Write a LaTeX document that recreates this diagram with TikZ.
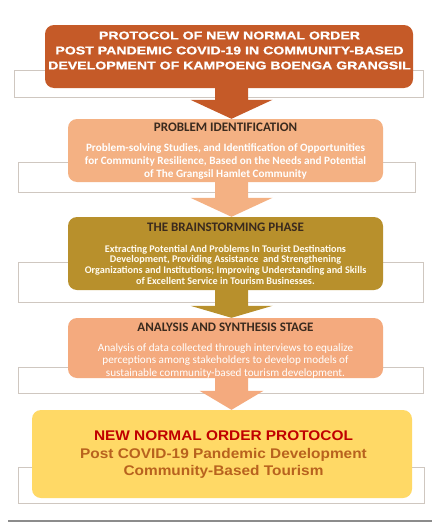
\documentclass[tikz,border=0pt]{standalone}
\usepackage{fontspec}
\setmainfont{Carlito}
\newfontfamily\arialfont{Liberation Sans}
\newfontfamily\widefont[FakeStretch=1.25, FakeBold=1.2]{Liberation Sans}
\newfontfamily\endfont[FakeStretch=1.1]{Liberation Sans}
\usetikzlibrary{calc}
\definecolor{protoDark}  {HTML}{C55A28}
\definecolor{protoPeach} {HTML}{F4B183}
\definecolor{protoGold}  {HTML}{B8902C}
\definecolor{protoSalmon}{HTML}{F4AA7E}
\definecolor{protoYellow}{HTML}{FFD966}
\definecolor{protoFrame} {HTML}{CFC7C0}
\definecolor{protoInk}   {HTML}{3A2A1E}
\definecolor{protoRed}   {HTML}{C00000}
\definecolor{protoBrown} {HTML}{B8621E}
\tikzset{
  stagebox/.style = {rectangle, rounded corners=9pt, inner sep=0pt, draw=none},
  backframe/.style= {draw=protoFrame, line width=0.8pt, fill=white},
  headtext/.style = {font=\widefont\bfseries\fontsize{11.3}{15}\selectfont,
                     text=white, align=center},
  titletext/.style= {font=\bfseries\fontsize{13}{14}\selectfont, text=protoInk},
  bodytext/.style = {align=center, text=white},
  endtext/.style  = {font=\endfont\bfseries\fontsize{14}{17.5}\selectfont,
                     align=center, text=protoBrown},
}
% block arrow: from, to, colour, half head width, head length
\newcommand{\stagearrow}[5]{%
  \fill[#3] let \p1=(#1.south -| ax), \p2=(#2.north -| ax) in
    (\x1-16.5pt,\y1+1pt) -- (\x1-16.5pt,\y2+#5) -- (\x1-#4,\y2+#5) -- (\x2,\y2)
    -- (\x1+#4,\y2+#5) -- (\x1+16.5pt,\y2+#5) -- (\x1+16.5pt,\y1+1pt) -- cycle;}

\begin{document}
\begin{tikzpicture}[x=1pt, y=-1pt]
  \useasboundingbox (0,0) rectangle (432,522);
  \fill[white] (0,0) rectangle (432,522);
  \coordinate (ax) at (231.5,0);

  % frames behind the stages
  \draw[backframe] (14,70) rectangle (423,97);
  \draw[backframe] (18,162) rectangle (415,192);
  \draw[backframe] (18,262) rectangle (423,302);
  \draw[backframe] (18,367) rectangle (423,393);
  \draw[backframe] (18,467) rectangle (424,503);

  % stages
  \node[stagebox, fill=protoDark,   minimum width=368pt, minimum height=63pt] (protocol)  at (229,56.5) {};
  \node[stagebox, fill=protoPeach,  minimum width=315pt, minimum height=63pt] (problem)   at (225.5,150.5) {};
  \node[stagebox, fill=protoGold,   minimum width=315pt, minimum height=73pt] (brainstorm) at (225.5,253.5) {};
  \node[stagebox, fill=protoSalmon, minimum width=315pt, minimum height=60pt] (analysis)  at (225.5,348) {};
  \node[stagebox, fill=protoYellow, minimum width=380pt, minimum height=88pt] (result)    at (222,454) {};

  % arrows
  \stagearrow{protocol}{problem}{protoDark}{41pt}{19pt}
  \stagearrow{problem}{brainstorm}{protoPeach}{41pt}{19pt}
  \stagearrow{brainstorm}{analysis}{protoGold}{41pt}{12pt}
  \stagearrow{analysis}{result}{protoSalmon}{32pt}{19pt}

  % texts
  \node[headtext] (protocoltxt) at (229.5,50.5)
    {PROTOCOL OF NEW NORMAL ORDER\\POST PANDEMIC COVID-19 IN COMMUNITY-BASED\\DEVELOPMENT OF KAMPOENG BOENGA GRANGSIL};

  \node[titletext] (problemttl) at (225.5,127) {PROBLEM IDENTIFICATION};
  \node[bodytext, font=\bfseries\fontsize{11.2}{13.2}\selectfont] (problemtxt) at (225.5,161.5)
    {Problem-solving Studies, and Identification of Opportunities\\for Community Resilience, Based on the Needs and Potential\\of The Grangsil Hamlet Community};

  \node[titletext] (brainttl) at (225.5,227.5) {THE BRAINSTORMING PHASE};
  \node[bodytext, text=white!90!protoYellow, font=\bfseries\fontsize{10.2}{10.7}\selectfont] (braintxt) at (225.5,264.5)
    {Extracting Potential And Problems In Tourist Destinations\\Development, Providing Assistance\ \ and Strengthening\\Organizations and Institutions; Improving Understanding and Skills\\of Excellent Service in Tourism Businesses.};

  \node[titletext] (analysisttl) at (225.5,327) {ANALYSIS AND SYNTHESIS STAGE};
  \node[bodytext, font=\fontsize{11.2}{12.5}\selectfont] (analysistxt) at (225.5,361)
    {Analysis of data collected through interviews to equalize\\perceptions among stakeholders to develop models of\\sustainable community-based tourism development.};

  \node[endtext] (resulttxt) at (223.5,455)
    {\textcolor{protoRed}{NEW NORMAL ORDER PROTOCOL}\\Post COVID-19\ Pandemic Development\\Community-Based\ Tourism};

  % bottom edge shadow
  \fill[black!45] (8,519.5) rectangle (432,522);
\end{tikzpicture}
\end{document}
